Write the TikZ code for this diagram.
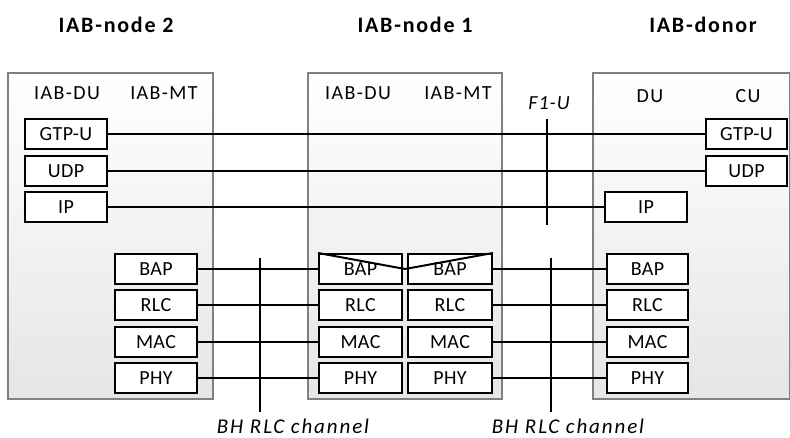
\documentclass[tikz,border=0pt]{standalone}
\usepackage{fontspec}
\setmainfont{Carlito}
\begin{document}
\begin{tikzpicture}[x=1pt,y=-1pt,
  outerbox/.style={draw=black!50, line width=1.6pt, top color=white, bottom color=black!10, minimum width=#1, inner sep=0pt, minimum height=326pt},
  layer/.style={draw=black, line width=2pt, fill=white, minimum width=82pt, minimum height=30pt, inner sep=0pt, font=\fontsize{20}{20}\selectfont\addfontfeatures{LetterSpace=2}},
  link/.style={line width=2pt},
  title/.style={font=\fontsize{22}{22}\selectfont\bfseries\addfontfeatures{LetterSpace=8}},
  sublabel/.style={font=\fontsize{20}{20}\selectfont\addfontfeatures{LetterSpace=7}},
  ital/.style={inner sep=0pt, font=\fontsize{21}{21}\selectfont\itshape\addfontfeatures{LetterSpace=9}},
  italsmall/.style={inner sep=0pt, font=\fontsize{20}{20}\selectfont\itshape\addfontfeatures{LetterSpace=5}}
]
\useasboundingbox (0,0) rectangle (790,438);
% outer boxes
\node[outerbox=205pt] (n2) at (110.5,236) {};
\node[outerbox=194pt] (n1) at (405,236) {};
\node[outerbox=197pt] (dn) at (691.5,236) {};
% titles
\node[title] (t2) at (116,25) {IAB-node 2};
\node[title] (t1) at (415,25) {IAB-node 1};
\node[title] (td) at (703,25) {IAB-donor};
% sub labels
\node[sublabel] (s2du) at (67,93) {IAB-DU};
\node[sublabel] (s2mt) at (164,93) {IAB-MT};
\node[sublabel] (s1du) at (358,93) {IAB-DU};
\node[sublabel] (s1mt) at (458,93) {IAB-MT};
\node[sublabel] (sddu) at (650,96) {DU};
\node[sublabel] (sdcu) at (748,96) {CU};
% node 2 layers
\node[layer] (a2gtp) at (66,134) {GTP-U};
\node[layer] (a2udp) at (66,171) {UDP};
\node[layer] (a2ip)  at (66,207) {IP};
\node[layer] (a2bap) at (156,269) {BAP};
\node[layer] (a2rlc) at (156,305) {RLC};
\node[layer] (a2mac) at (156,342) {MAC};
\node[layer] (a2phy) at (156,378) {PHY};
% node 1 layers
\node[layer, minimum width=83pt] (a1bapL) at (360.5,269) {BAP};
\node[layer, minimum width=83pt] (a1rlcL) at (360.5,305) {RLC};
\node[layer, minimum width=83pt] (a1macL) at (360.5,342) {MAC};
\node[layer, minimum width=83pt] (a1phyL) at (360.5,378) {PHY};
\node[layer, minimum width=84pt] (a1bapR) at (450,269) {BAP};
\node[layer, minimum width=84pt] (a1rlcR) at (450,305) {RLC};
\node[layer, minimum width=84pt] (a1macR) at (450,342) {MAC};
\node[layer, minimum width=84pt] (a1phyR) at (450,378) {PHY};
% donor layers
\node[layer, minimum width=81pt] (dgtp) at (746.5,134) {GTP-U};
\node[layer, minimum width=81pt] (dudp) at (746.5,171) {UDP};
\node[layer] (dip)  at (646,207) {IP};
\node[layer, minimum width=81pt] (dbap) at (647.5,269) {BAP};
\node[layer, minimum width=81pt] (drlc) at (647.5,305) {RLC};
\node[layer, minimum width=81pt] (dmac) at (647.5,342) {MAC};
\node[layer, minimum width=81pt] (dphy) at (647.5,378) {PHY};
% links
\draw[link] (a2gtp) -- (dgtp);
\draw[link] (a2udp) -- (dudp);
\draw[link] (a2ip) -- (dip);
\draw[link] (a2bap) -- (a1bapL);
\draw[link] (a2rlc) -- (a1rlcL);
\draw[link] (a2mac) -- (a1macL);
\draw[link] (a2phy) -- (a1phyL);
\draw[link] (a1bapR) -- (dbap);
\draw[link] (a1rlcR) -- (drlc);
\draw[link] (a1macR) -- (dmac);
\draw[link] (a1phyR) -- (dphy);
% BAP V
\coordinate (vtx) at (405,269);
\draw[link] (a1bapL.north west) -- (vtx) -- (a1bapR.north east);
% vertical markers
\coordinate (f1top) at (547,119);
\coordinate (f1bot) at (547,225);
\draw[link] (f1top) -- (f1bot);
\coordinate (bh1top) at (260,258);
\coordinate (bh1bot) at (260,412);
\draw[link] (bh1top) -- (bh1bot);
\coordinate (bh2top) at (551,258);
\coordinate (bh2bot) at (551,412);
\draw[link] (bh2top) -- (bh2bot);
% italic labels
\node[italsmall] (f1) at (549,103) {F1-U};
\node[ital] (bh1) at (293,426) {BH RLC channel};
\node[ital] (bh2) at (568,426) {BH RLC channel};
\end{tikzpicture}
\end{document}
